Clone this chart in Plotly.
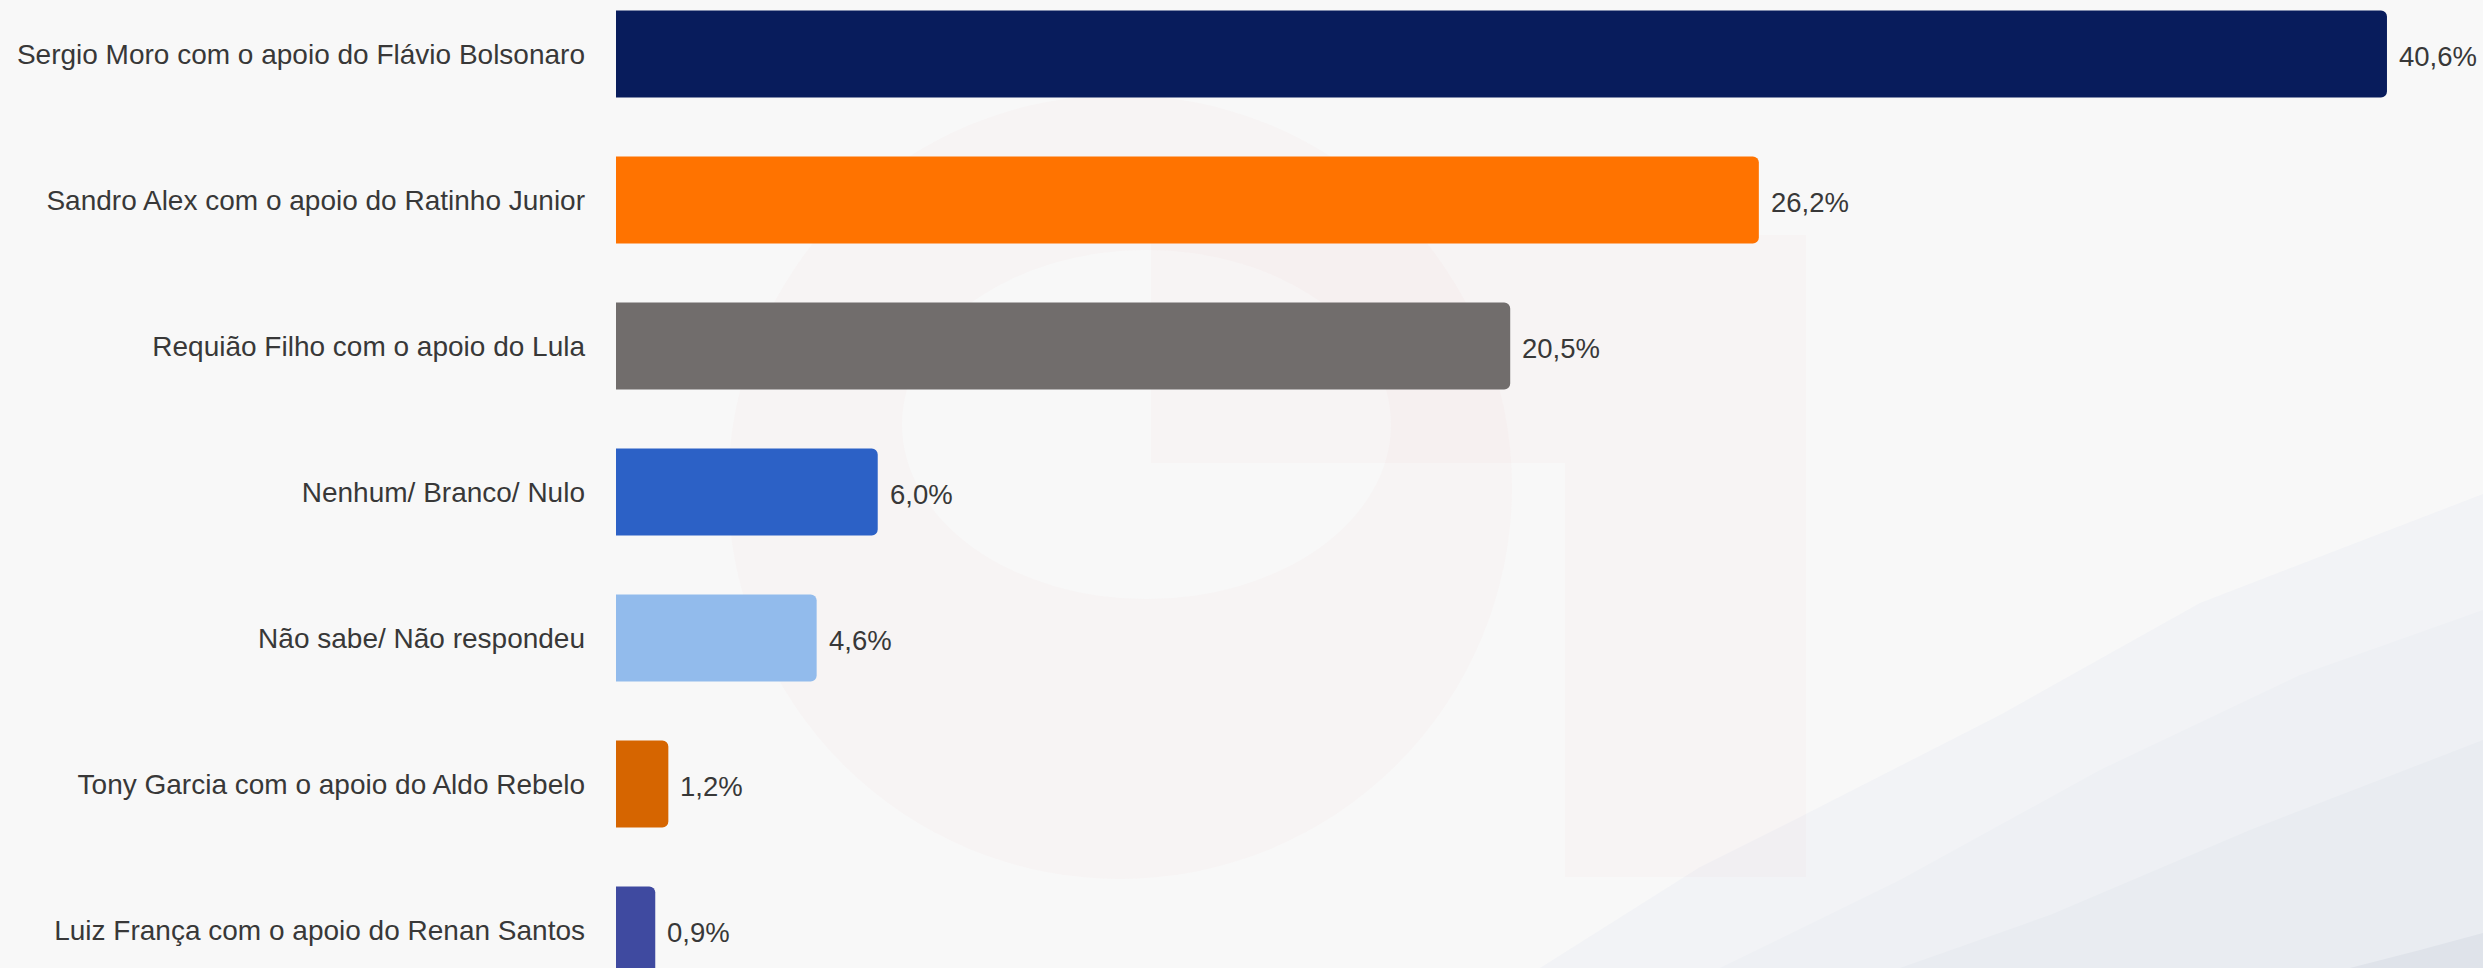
import plotly.graph_objects as go

# ---------------- data ----------------
categories = [
    "Sergio Moro com o apoio do Flávio Bolsonaro",
    "Sandro Alex com o apoio do Ratinho Junior",
    "Requião Filho com o apoio do Lula",
    "Nenhum/ Branco/ Nulo",
    "Não sabe/ Não respondeu",
    "Tony Garcia com o apoio do Aldo Rebelo",
    "Luiz França com o apoio do Renan Santos",
]
values = [40.6, 26.2, 20.5, 6.0, 4.6, 1.2, 0.9]
bar_colors = ["#081c5c", "#ff7300", "#716d6c", "#2c61c6", "#92bbec", "#d66500", "#3f4aa0"]
value_labels = [f"{v:.1f}%".replace(".", ",") for v in values]

# ---------------- geometry ----------------
W, H = 2483, 968
L = 616               # left margin (bar base)
PX_PER_UNIT = 43.62   # pixels per percentage point
x_max = (W - L) / PX_PER_UNIT

FONT = "Arial, 'Liberation Sans', Helvetica, sans-serif"
TEXT_COLOR = "#383838"
BG = "#f8f8f8"


def px(x):
    return (x - L) / (W - L)


def py(y):
    return 1 - y / H


def path(points):
    d = "M " + " L ".join(f"{px(a):.5f},{py(b):.5f}" for a, b in points) + " Z"
    return d


shapes = []
# faint background swoosh (bottom right)
swoosh = [
    ([(1540, 968), (1700, 867), (1800, 817), (2000, 715), (2200, 603), (2483, 494), (2483, 968)], "#f2f3f6"),
    ([(1720, 968), (1900, 880), (2100, 770), (2300, 675), (2483, 610), (2483, 968)], "#eef0f4"),
    ([(1900, 968), (2050, 915), (2250, 830), (2483, 740), (2483, 968)], "#e9ecf1"),
    ([(2350, 968), (2420, 950), (2483, 933), (2483, 968)], "#dfe3ea"),
]
for pts, col in swoosh:
    shapes.append(dict(type="path", xref="paper", yref="paper", path=path(pts),
                       fillcolor=col, line=dict(width=0), layer="below"))

# very faint watermark "G"
WM = "rgba(240,150,130,0.035)"
shapes.append(dict(type="circle", xref="paper", yref="paper",
                   x0=px(728), x1=px(1512), y0=py(879), y1=py(95),
                   fillcolor=WM, line=dict(width=0), layer="below"))
shapes.append(dict(type="circle", xref="paper", yref="paper",
                   x0=px(902), x1=px(1391), y0=py(599), y1=py(250),
                   fillcolor=BG, line=dict(width=0), layer="below"))
shapes.append(dict(type="rect", xref="paper", yref="paper",
                   x0=px(1151), x1=px(1806), y0=py(463), y1=py(235),
                   fillcolor=WM, line=dict(width=0), layer="below"))
shapes.append(dict(type="rect", xref="paper", yref="paper",
                   x0=px(1565), x1=px(1806), y0=py(877), y1=py(463),
                   fillcolor=WM, line=dict(width=0), layer="below"))

fig = go.Figure(
    go.Bar(
        x=values,
        y=categories,
        orientation="h",
        marker=dict(color=bar_colors, line=dict(width=0), cornerradius=6),
        hoverinfo="skip",
        cliponaxis=False,
    )
)

annotations = [
    dict(x=v, y=c, text=t, xref="x", yref="y", xanchor="left", yanchor="middle",
         xshift=10, yshift=-2, showarrow=False,
         font=dict(family=FONT, size=27.5, color=TEXT_COLOR))
    for v, c, t in zip(values, categories, value_labels)
]

fig.update_layout(
    width=W,
    height=H,
    margin=dict(l=L, r=0, t=0, b=0, pad=0),
    paper_bgcolor=BG,
    plot_bgcolor="rgba(0,0,0,0)",
    showlegend=False,
    bargap=0.404,
    shapes=shapes,
    annotations=annotations,
    font=dict(family=FONT, color=TEXT_COLOR),
    xaxis=dict(range=[0, x_max], visible=False, showgrid=False, zeroline=False, fixedrange=True),
    yaxis=dict(
        type="category",
        categoryorder="array",
        categoryarray=categories,
        range=[6.26, -0.37],
        showgrid=False,
        zeroline=False,
        showline=False,
        ticks="",
        ticklabelstandoff=30,
        tickfont=dict(family=FONT, size=28, color=TEXT_COLOR),
        fixedrange=True,
    ),
)

fig.write_html("out.html", config={"displayModeBar": False},
               post_script="document.body.style.margin='0';document.body.style.overflow='hidden';")
